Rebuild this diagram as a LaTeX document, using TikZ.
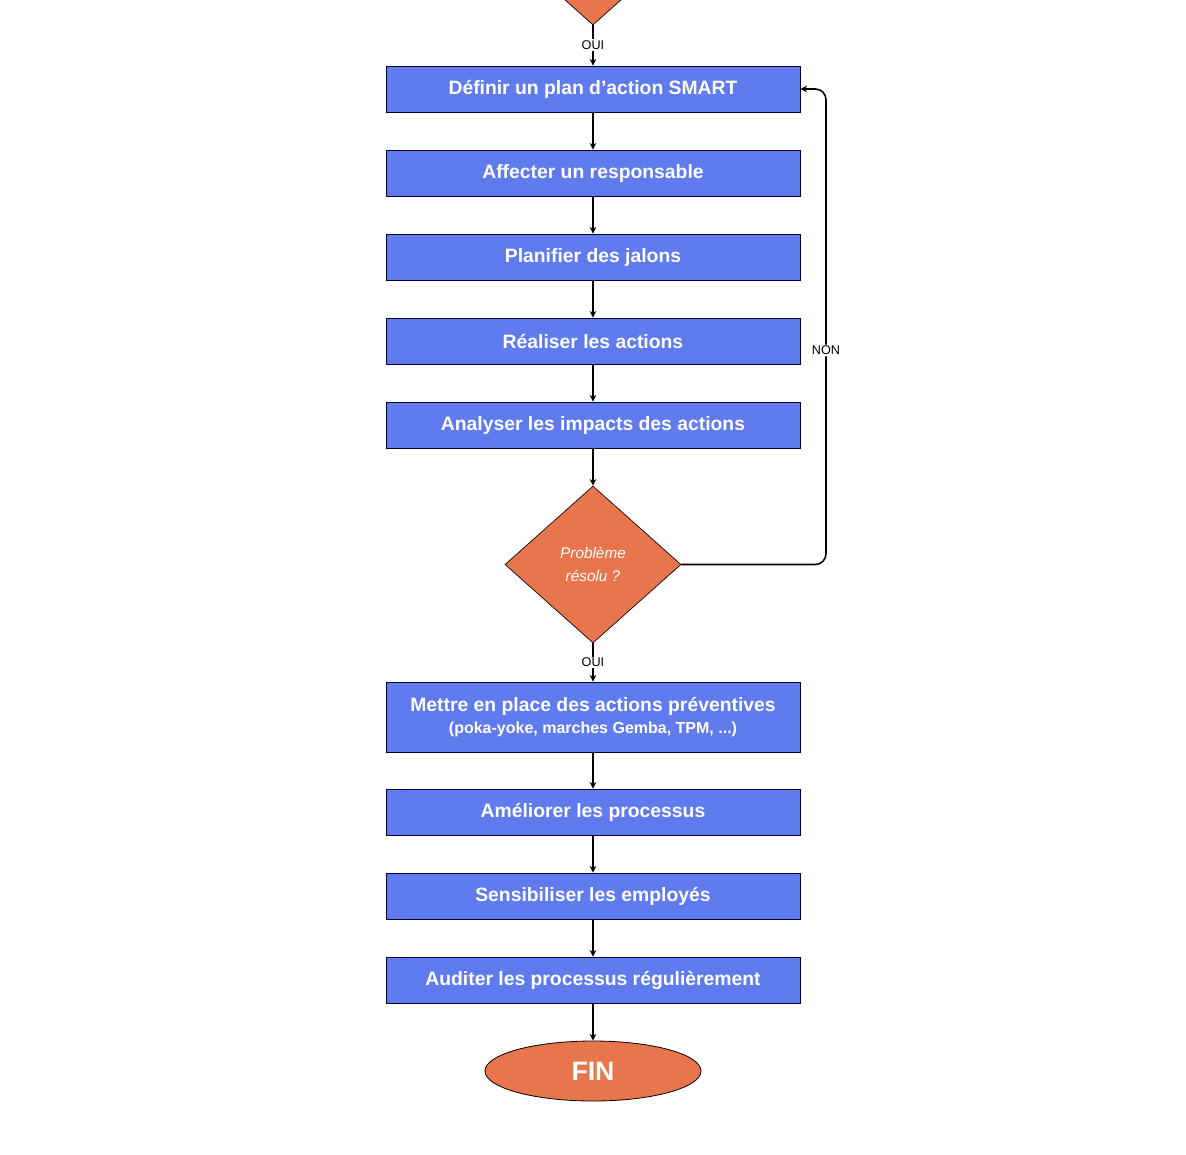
\documentclass[tikz,border=0pt]{standalone}
\usepackage{fontspec}
\setmainfont{Liberation Sans}
\usetikzlibrary{shapes.geometric,arrows.meta}
\definecolor{bx}{HTML}{5F7BEE}
\definecolor{og}{HTML}{E8754C}
\begin{document}
\begin{tikzpicture}[x=0.75pt,y=-0.75pt,
  box/.style={draw=black!80!blue,line width=0.6pt,fill=bx,minimum width=414*0.75pt,minimum height=46*0.75pt,inner sep=0pt,text=white,font=\bfseries\fontsize{14.5}{17}\selectfont,align=center},
  dia/.style={diamond,draw=black,line width=0.5pt,fill=og,minimum width=176*0.75pt,minimum height=157*0.75pt,inner sep=0pt,aspect=1.12},
  ar/.style={-{Stealth[length=5pt,width=5pt]},line width=1.2pt},
  lb/.style={fill=white,font=\fontsize{9.5}{11}\selectfont,inner sep=1pt}]
\useasboundingbox (0,0) rectangle (1186,1154);
\begin{scope}
\clip (0,0) rectangle (1186,1154);
\node[dia] (d0) at (593,-53.5) {};
\end{scope}
\node[box] (b1) at (593,89) {Définir un plan d’action SMART};
\node[box] (b2) at (593,173) {Affecter un responsable};
\node[box] (b3) at (593,257) {Planifier des jalons};
\node[box] (b4) at (593,341) {Réaliser les actions};
\node[box] (b5) at (593,425) {Analyser les impacts des actions};
\node[dia,text=white,font=\itshape\fontsize{11.5}{17}\selectfont,align=center] (d1) at (593,564.5) {Problème\\résolu ?};
\node[box,minimum height=70*0.75pt] (b6) at (593,717) {Mettre en place des actions préventives\\[-1pt]{\fontsize{12}{14}\selectfont(poka-yoke, marches Gemba, TPM, ...)}};
\node[box] (b7) at (593,812) {Améliorer les processus};
\node[box] (b8) at (593,896) {Sensibiliser les employés};
\node[box] (b9) at (593,980) {Auditer les processus régulièrement};
\node[ellipse,draw=black,line width=0.6pt,fill=og,minimum width=216*0.75pt,minimum height=60*0.75pt,text=white,font=\bfseries\fontsize{20}{24}\selectfont] (fin) at (593,1071) {FIN};
\coordinate (t0) at (593,25);
\draw[ar] (t0) -- node[lb,pos=0.5]{OUI} (b1);
\draw[ar] (b1) -- (b2);
\draw[ar] (b2) -- (b3);
\draw[ar] (b3) -- (b4);
\draw[ar] (b4) -- (b5);
\draw[ar] (b5) -- (d1.north);
\draw[ar] (d1.south) -- node[lb,pos=0.5]{OUI} (b6);
\draw[ar] (b6) -- (b7);
\draw[ar] (b7) -- (b8);
\draw[ar] (b8) -- (b9);
\draw[ar] (b9) -- (fin);
\draw[ar,rounded corners=8pt] (d1.east) -- (826,564.5) -- node[lb,pos=0.45]{NON} (826,89) -- (b1.east);
\end{tikzpicture}
\end{document}
